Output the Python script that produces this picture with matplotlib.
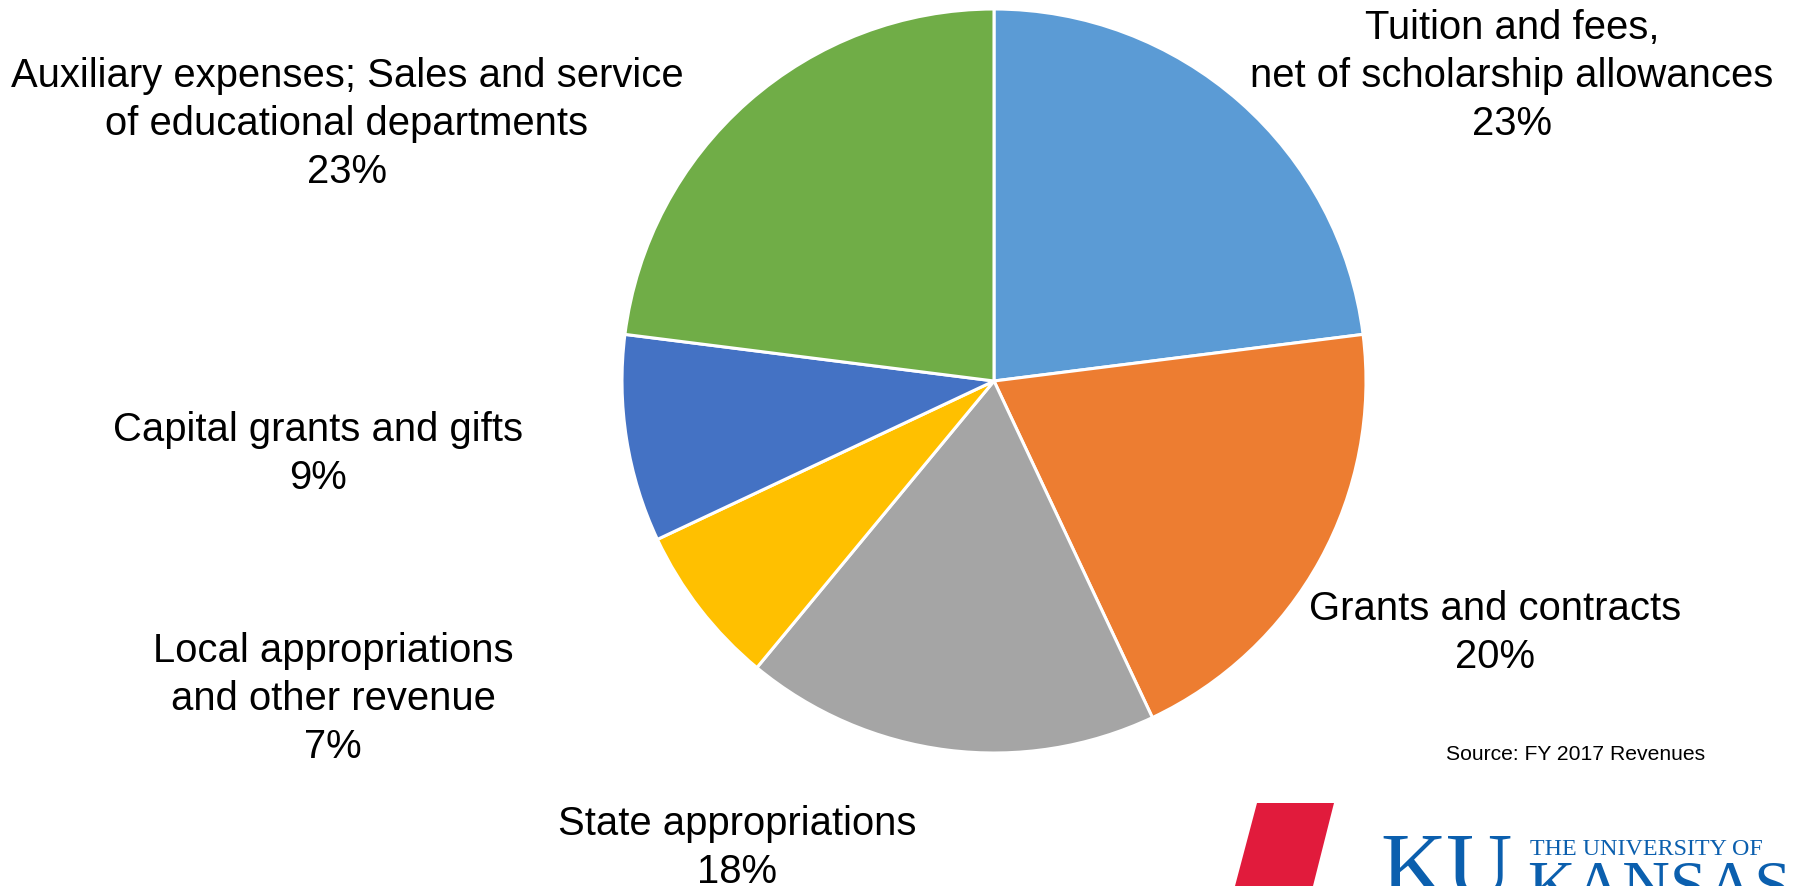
import matplotlib
matplotlib.use("Agg")
import matplotlib.pyplot as plt
from matplotlib.patches import Polygon

# revenue shares, clockwise from 12 o'clock
categories = [
    "Tuition and fees,\nnet of scholarship allowances",
    "Grants and contracts",
    "State appropriations",
    "Local appropriations\nand other revenue",
    "Capital grants and gifts",
    "Auxiliary expenses; Sales and service\nof educational departments",
]
shares = [23, 20, 18, 7, 9, 23]
colors = ["#5B9BD5", "#ED7D31", "#A5A5A5", "#FFC000", "#4472C4", "#70AD47"]

# label anchor (centre x, baseline of the percentage line) in pixels from top-left
label_pos = [(1512, 135), (1495, 668), (737, 883), (333, 758), (318, 489), (347, 183)]

W, H = 1796, 887
FS = 28.8  # 40 px

plt.rcParams['font.family'] = ['Liberation Sans', 'DejaVu Sans']

fig = plt.figure(figsize=(W / 100, H / 100), dpi=100)
ax = fig.add_axes([0, 0, 1, 1])

ax.pie(shares, colors=colors, startangle=90, counterclock=False,
       center=(994, H - 382), radius=372,
       wedgeprops=dict(edgecolor="white", linewidth=2.2))
ax.set_xlim(0, W)
ax.set_ylim(0, H)
ax.set_aspect("equal")
ax.axis("off")

for name, val, (x, y) in zip(categories, shares, label_pos):
    ax.text(x, H - y, f"{name}\n{val}%", ha="center", va="baseline",
            fontsize=FS, linespacing=1.34, multialignment="center")

ax.text(1576, H - 760, "Source: FY 2017 Revenues", ha="center", va="baseline",
        fontsize=15.2)

# KU logo (bottom right)
ku_blue = "#0B5FAE"
ax.add_patch(Polygon([(1257, H - 804), (1334, H - 804), (1313, H - 887), (1235, H - 887)],
                     closed=True, facecolor="#E11B3C", edgecolor="none"))
ax.text(1380, H - 896, "KU", fontsize=66, color=ku_blue, ha="left", va="baseline",
        family="Liberation Serif")
ax.text(1530, H - 855, "THE UNIVERSITY OF", fontsize=17.3, color=ku_blue, ha="left",
        va="baseline", family="Liberation Serif")
ax.text(1527, H - 906, "KANSAS", fontsize=47.5, color=ku_blue, ha="left", va="baseline",
        family="Liberation Serif")

fig.savefig("out.png", dpi=100, facecolor="white")
